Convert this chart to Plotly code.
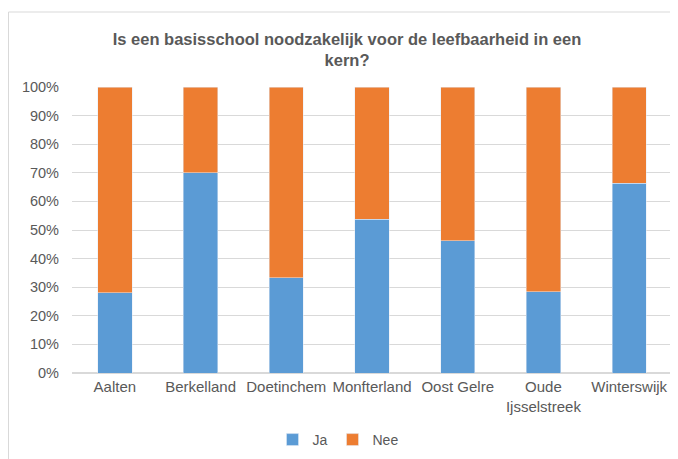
import plotly.graph_objects as go

categories = ["Aalten", "Berkelland", "Doetinchem", "Monfterland", "Oost Gelre", "Oude<br>Ijsselstreek", "Winterswijk"]
ja = [0.28, 0.70, 0.333, 0.538, 0.463, 0.284, 0.663]
nee = [1 - v for v in ja]

TXT = "#595959"
# page has an 8px body margin, so figure coords = page coords - 8
W, H = 670, 451
ml, mr, mt, mb = 64, 6, 79, 86
pw = W - ml - mr
ph = H - mt - mb

fig = go.Figure()
fig.add_trace(go.Bar(x=categories, y=ja, name="Ja", marker_color="#5B9BD5"))
fig.add_trace(go.Bar(x=categories, y=nee, name="Nee", marker_color="#ED7D31"))

fig.update_layout(
    width=W, height=H,
    barmode="stack", bargap=0.6,
    paper_bgcolor="white", plot_bgcolor="white",
    margin=dict(l=ml, r=mr, t=mt, b=mb, autoexpand=False),
    font=dict(family="Liberation Sans, Arial, sans-serif", size=14, color=TXT),
    title=dict(
        text="<b>Is een basisschool noodzakelijk voor de leefbaarheid in een<br>kern?</b>",
        x=339 / W, xanchor="center", y=1 - 37 / H, yanchor="top",
        font=dict(size=16.5, color=TXT),
    ),
    legend=dict(orientation="h", x=(330 - ml) / pw, xanchor="center",
                yref="container", y=1 - 432 / H, yanchor="middle",
                font=dict(size=14, color=TXT), itemwidth=30, traceorder="normal"),
    xaxis=dict(showline=True, linecolor="#D9D9D9", ticks="", tickfont=dict(size=15, color=TXT),
               tickangle=0, automargin=False),
    yaxis=dict(range=[0, 1], dtick=0.1, tickformat=".0%", showgrid=True, gridcolor="#D9D9D9",
               zeroline=True, zerolinecolor="#D9D9D9", tickfont=dict(size=14.5, color=TXT),
               ticklabelstandoff=12, automargin=False),
    shapes=[dict(type="rect", xref="paper", yref="paper",
                 x0=(0.5 - ml) / pw, x1=(W + 20 - ml) / pw,
                 y0=-(H + 20 - mt - ph) / ph, y1=(H - mb - 4) / ph,
                 line=dict(color="#D9D9D9", width=1), layer="below")],
)

fig.write_html("out.html")
